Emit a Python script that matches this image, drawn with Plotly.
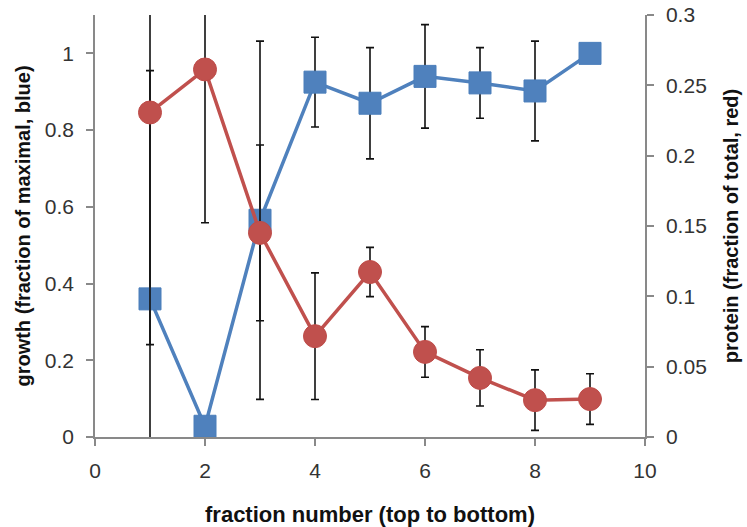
import plotly.graph_objects as go

fractions = [1, 2, 3, 4, 5, 6, 7, 8, 9]
growth = [0.36, 0.028, 0.565, 0.925, 0.87, 0.94, 0.923, 0.902, 1.0]
growth_err = [0.595, 0.0, 0.467, 0.117, 0.145, 0.135, 0.092, 0.13, 0.0]
protein = [0.2307, 0.2613, 0.1451, 0.0717, 0.1173, 0.0605, 0.042, 0.0262, 0.027]
protein_err = [0.165, 0.109, 0.0625, 0.045, 0.0175, 0.018, 0.020, 0.0215, 0.018]

x_ticks = [0, 2, 4, 6, 8, 10]
left_ticks = [0, 0.2, 0.4, 0.6, 0.8, 1]
left_labels = ["0", "0.2", "0.4", "0.6", "0.8", "1"]
right_ticks = [0, 0.05, 0.1, 0.15, 0.2, 0.25, 0.3]
right_labels = ["0", "0.05", "0.1", "0.15", "0.2", "0.25", "0.3"]

BLUE = "#4F81BD"
RED = "#C0504D"
AXIS = "#898989"
TICKC = "#333333"
TITLEC = "#111111"
FONT = "Liberation Sans, Arial, sans-serif"

fig = go.Figure()
fig.add_trace(go.Scatter(
    x=fractions, y=growth, mode="lines+markers",
    line=dict(color=BLUE, width=3.5),
    marker=dict(symbol="square", size=22, color=BLUE, line=dict(color="#4A7EBB", width=1)),
    error_y=dict(type="data", array=growth_err, visible=True, color="#111111", thickness=1.6, width=4),
    yaxis="y", showlegend=False, cliponaxis=True,
))
fig.add_trace(go.Scatter(
    x=fractions, y=protein, mode="lines+markers",
    line=dict(color=RED, width=3.5),
    marker=dict(symbol="circle", size=23, color=RED, line=dict(color="#BE4B48", width=1)),
    error_y=dict(type="data", array=protein_err, visible=True, color="#111111", thickness=1.6, width=4),
    yaxis="y2", showlegend=False, cliponaxis=True,
))

common = dict(showgrid=False, zeroline=False, showline=True, linecolor=AXIS, linewidth=1.5,
              ticks="outside", ticklen=7, tickcolor=AXIS, tickwidth=1.5,
              tickfont=dict(size=21, color=TICKC), automargin=False)

fig.update_layout(
    width=747, height=527,
    margin=dict(l=95, r=102, t=15, b=90),
    plot_bgcolor="white", paper_bgcolor="white",
    font=dict(family=FONT, size=21, color=TICKC),
    xaxis=dict(
        range=[0, 10], tickvals=x_ticks, ticktext=[str(v) for v in x_ticks],
        ticklabelstandoff=7,
        title=dict(text="<b>fraction number (top to bottom)</b>", font=dict(size=22, color=TITLEC), standoff=26),
        **common,
    ),
    yaxis=dict(
        range=[0, 1.1], tickvals=left_ticks, ticktext=left_labels,
        ticklabelstandoff=8,
        title=dict(text="<b>growth (fraction of maximal, blue)</b>", font=dict(size=20, color=TITLEC), standoff=9),
        **common,
    ),
    yaxis2=dict(
        range=[0, 0.3], tickvals=right_ticks, ticktext=right_labels,
        overlaying="y", side="right", ticklabelstandoff=8,
        title=dict(text="<b>protein (fraction of total, red)</b>", font=dict(size=20, color=TITLEC), standoff=18),
        **common,
    ),
)

fig.write_html("out.html", config={"displayModeBar": False},
               post_script="document.body.style.margin='0';document.body.style.padding='0';")
